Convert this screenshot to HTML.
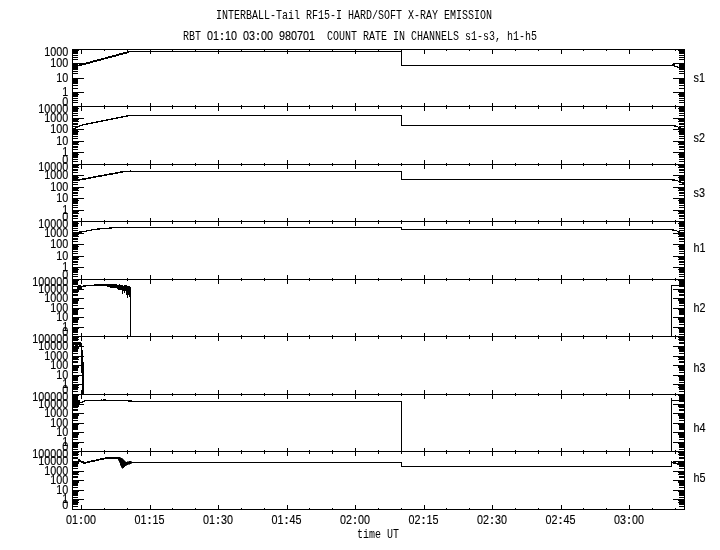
<!DOCTYPE html>
<html><head><meta charset="utf-8"><title>INTERBALL-Tail RF15-I</title><style>
html,body{margin:0;padding:0;background:#fff}
#t{position:absolute;left:0;top:0;width:720px;height:550px;will-change:transform}
#c{position:relative;width:720px;height:550px;overflow:hidden;background:#fff;color:#000}
.m{position:absolute;font-family:"Liberation Mono",monospace;font-size:10px;line-height:20px;height:20px;margin-top:-12px;white-space:pre;transform:scaleY(1.3);transform-origin:0 12px}
.s{position:absolute;font-family:"Liberation Sans",sans-serif;font-size:10.8px;line-height:20px;height:20px;margin-top:-14px;white-space:pre;transform:scaleY(1.14);transform-origin:0 14px;letter-spacing:0}
.s.r{width:60px;text-align:right}
.s.c{width:60px;text-align:center}
.s i{font-style:normal;font-weight:bold;display:inline-block;width:6px;text-align:center}
.s{-webkit-text-stroke:0.12px #000}
</style></head><body><div id="c">
<svg width="720" height="550" viewBox="0 0 720 550" shape-rendering="crispEdges" style="position:absolute;left:0;top:0">
<path fill="#000" d="M72 49h1v461h-1zM684 49h1v461h-1zM72 49h613v1h-613zM72 106h613v1h-613zM72 164h613v1h-613zM72 221h613v1h-613zM72 279h613v1h-613zM72 336h613v1h-613zM72 394h613v1h-613zM72 451h613v1h-613zM72 509h613v1h-613zM81 49h1v5h-1zM81 103h1v8h-1zM81 160h1v9h-1zM81 218h1v8h-1zM81 275h1v9h-1zM81 333h1v8h-1zM81 390h1v9h-1zM81 448h1v8h-1zM81 505h1v5h-1zM104 49h1v2h-1zM104 105h1v4h-1zM104 163h1v3h-1zM104 220h1v4h-1zM104 278h1v3h-1zM104 335h1v4h-1zM104 393h1v3h-1zM104 450h1v4h-1zM104 508h1v2h-1zM127 49h1v2h-1zM127 105h1v4h-1zM127 163h1v3h-1zM127 220h1v4h-1zM127 278h1v3h-1zM127 335h1v4h-1zM127 393h1v3h-1zM127 450h1v4h-1zM127 508h1v2h-1zM150 49h1v5h-1zM150 103h1v8h-1zM150 160h1v9h-1zM150 218h1v8h-1zM150 275h1v9h-1zM150 333h1v8h-1zM150 390h1v9h-1zM150 448h1v8h-1zM150 505h1v5h-1zM172 49h1v2h-1zM172 105h1v4h-1zM172 163h1v3h-1zM172 220h1v4h-1zM172 278h1v3h-1zM172 335h1v4h-1zM172 393h1v3h-1zM172 450h1v4h-1zM172 508h1v2h-1zM195 49h1v2h-1zM195 105h1v4h-1zM195 163h1v3h-1zM195 220h1v4h-1zM195 278h1v3h-1zM195 335h1v4h-1zM195 393h1v3h-1zM195 450h1v4h-1zM195 508h1v2h-1zM218 49h1v5h-1zM218 103h1v8h-1zM218 160h1v9h-1zM218 218h1v8h-1zM218 275h1v9h-1zM218 333h1v8h-1zM218 390h1v9h-1zM218 448h1v8h-1zM218 505h1v5h-1zM241 49h1v2h-1zM241 105h1v4h-1zM241 163h1v3h-1zM241 220h1v4h-1zM241 278h1v3h-1zM241 335h1v4h-1zM241 393h1v3h-1zM241 450h1v4h-1zM241 508h1v2h-1zM264 49h1v2h-1zM264 105h1v4h-1zM264 163h1v3h-1zM264 220h1v4h-1zM264 278h1v3h-1zM264 335h1v4h-1zM264 393h1v3h-1zM264 450h1v4h-1zM264 508h1v2h-1zM287 49h1v5h-1zM287 103h1v8h-1zM287 160h1v9h-1zM287 218h1v8h-1zM287 275h1v9h-1zM287 333h1v8h-1zM287 390h1v9h-1zM287 448h1v8h-1zM287 505h1v5h-1zM309 49h1v2h-1zM309 105h1v4h-1zM309 163h1v3h-1zM309 220h1v4h-1zM309 278h1v3h-1zM309 335h1v4h-1zM309 393h1v3h-1zM309 450h1v4h-1zM309 508h1v2h-1zM332 49h1v2h-1zM332 105h1v4h-1zM332 163h1v3h-1zM332 220h1v4h-1zM332 278h1v3h-1zM332 335h1v4h-1zM332 393h1v3h-1zM332 450h1v4h-1zM332 508h1v2h-1zM355 49h1v5h-1zM355 103h1v8h-1zM355 160h1v9h-1zM355 218h1v8h-1zM355 275h1v9h-1zM355 333h1v8h-1zM355 390h1v9h-1zM355 448h1v8h-1zM355 505h1v5h-1zM378 49h1v2h-1zM378 105h1v4h-1zM378 163h1v3h-1zM378 220h1v4h-1zM378 278h1v3h-1zM378 335h1v4h-1zM378 393h1v3h-1zM378 450h1v4h-1zM378 508h1v2h-1zM401 49h1v2h-1zM401 105h1v4h-1zM401 163h1v3h-1zM401 220h1v4h-1zM401 278h1v3h-1zM401 335h1v4h-1zM401 393h1v3h-1zM401 450h1v4h-1zM401 508h1v2h-1zM424 49h1v5h-1zM424 103h1v8h-1zM424 160h1v9h-1zM424 218h1v8h-1zM424 275h1v9h-1zM424 333h1v8h-1zM424 390h1v9h-1zM424 448h1v8h-1zM424 505h1v5h-1zM446 49h1v2h-1zM446 105h1v4h-1zM446 163h1v3h-1zM446 220h1v4h-1zM446 278h1v3h-1zM446 335h1v4h-1zM446 393h1v3h-1zM446 450h1v4h-1zM446 508h1v2h-1zM469 49h1v2h-1zM469 105h1v4h-1zM469 163h1v3h-1zM469 220h1v4h-1zM469 278h1v3h-1zM469 335h1v4h-1zM469 393h1v3h-1zM469 450h1v4h-1zM469 508h1v2h-1zM492 49h1v5h-1zM492 103h1v8h-1zM492 160h1v9h-1zM492 218h1v8h-1zM492 275h1v9h-1zM492 333h1v8h-1zM492 390h1v9h-1zM492 448h1v8h-1zM492 505h1v5h-1zM515 49h1v2h-1zM515 105h1v4h-1zM515 163h1v3h-1zM515 220h1v4h-1zM515 278h1v3h-1zM515 335h1v4h-1zM515 393h1v3h-1zM515 450h1v4h-1zM515 508h1v2h-1zM538 49h1v2h-1zM538 105h1v4h-1zM538 163h1v3h-1zM538 220h1v4h-1zM538 278h1v3h-1zM538 335h1v4h-1zM538 393h1v3h-1zM538 450h1v4h-1zM538 508h1v2h-1zM561 49h1v5h-1zM561 103h1v8h-1zM561 160h1v9h-1zM561 218h1v8h-1zM561 275h1v9h-1zM561 333h1v8h-1zM561 390h1v9h-1zM561 448h1v8h-1zM561 505h1v5h-1zM583 49h1v2h-1zM583 105h1v4h-1zM583 163h1v3h-1zM583 220h1v4h-1zM583 278h1v3h-1zM583 335h1v4h-1zM583 393h1v3h-1zM583 450h1v4h-1zM583 508h1v2h-1zM606 49h1v2h-1zM606 105h1v4h-1zM606 163h1v3h-1zM606 220h1v4h-1zM606 278h1v3h-1zM606 335h1v4h-1zM606 393h1v3h-1zM606 450h1v4h-1zM606 508h1v2h-1zM629 49h1v5h-1zM629 103h1v8h-1zM629 160h1v9h-1zM629 218h1v8h-1zM629 275h1v9h-1zM629 333h1v8h-1zM629 390h1v9h-1zM629 448h1v8h-1zM629 505h1v5h-1zM652 49h1v2h-1zM652 105h1v4h-1zM652 163h1v3h-1zM652 220h1v4h-1zM652 278h1v3h-1zM652 335h1v4h-1zM652 393h1v3h-1zM652 450h1v4h-1zM652 508h1v2h-1zM675 49h1v2h-1zM675 105h1v4h-1zM675 163h1v3h-1zM675 220h1v4h-1zM675 278h1v3h-1zM675 335h1v4h-1zM675 393h1v3h-1zM675 450h1v4h-1zM675 508h1v2h-1zM72 63h12v1h-12zM673 63h12v1h-12zM72 78h12v1h-12zM673 78h12v1h-12zM72 92h12v1h-12zM673 92h12v1h-12zM72 59h6v1h-6zM679 59h6v1h-6zM72 57h6v1h-6zM679 57h6v1h-6zM72 55h6v1h-6zM679 55h6v1h-6zM72 53h6v1h-6zM679 53h6v1h-6zM72 52h6v1h-6zM679 52h6v1h-6zM72 51h6v1h-6zM679 51h6v1h-6zM72 50h7v1h-7zM678 50h7v1h-7zM72 73h6v1h-6zM679 73h6v1h-6zM72 71h6v1h-6zM679 71h6v1h-6zM72 69h6v1h-6zM679 69h6v1h-6zM72 68h6v1h-6zM679 68h6v1h-6zM72 67h6v1h-6zM679 67h6v1h-6zM72 66h6v1h-6zM679 66h6v1h-6zM72 65h6v1h-6zM679 65h6v1h-6zM72 64h6v1h-6zM679 64h6v1h-6zM72 88h6v1h-6zM679 88h6v1h-6zM72 85h6v1h-6zM679 85h6v1h-6zM72 83h6v1h-6zM679 83h6v1h-6zM72 82h6v1h-6zM679 82h6v1h-6zM72 81h6v1h-6zM679 81h6v1h-6zM72 80h6v1h-6zM679 80h6v1h-6zM72 79h6v1h-6zM679 79h6v1h-6zM72 78h6v1h-6zM679 78h6v1h-6zM72 102h6v1h-6zM679 102h6v1h-6zM72 100h6v1h-6zM679 100h6v1h-6zM72 98h6v1h-6zM679 98h6v1h-6zM72 96h6v1h-6zM679 96h6v1h-6zM72 95h6v1h-6zM679 95h6v1h-6zM72 94h7v1h-7zM678 94h7v1h-7zM72 93h6v1h-6zM679 93h6v1h-6zM72 118h12v1h-12zM673 118h12v1h-12zM72 129h12v1h-12zM673 129h12v1h-12zM72 141h12v1h-12zM673 141h12v1h-12zM72 152h12v1h-12zM673 152h12v1h-12zM72 115h6v1h-6zM679 115h6v1h-6zM72 113h6v1h-6zM679 113h6v1h-6zM72 111h6v1h-6zM679 111h6v1h-6zM72 110h6v1h-6zM679 110h6v1h-6zM72 109h6v1h-6zM679 109h6v1h-6zM72 108h7v1h-7zM678 108h7v1h-7zM72 107h6v1h-6zM679 107h6v1h-6zM72 126h6v1h-6zM679 126h6v1h-6zM72 124h6v1h-6zM679 124h6v1h-6zM72 123h6v1h-6zM679 123h6v1h-6zM72 121h7v1h-7zM678 121h7v1h-7zM72 120h6v1h-6zM679 120h6v1h-6zM72 119h7v1h-7zM678 119h7v1h-7zM72 138h6v1h-6zM679 138h6v1h-6zM72 136h6v1h-6zM679 136h6v1h-6zM72 134h6v1h-6zM679 134h6v1h-6zM72 133h6v1h-6zM679 133h6v1h-6zM72 132h6v1h-6zM679 132h6v1h-6zM72 131h7v1h-7zM678 131h7v1h-7zM72 130h6v1h-6zM679 130h6v1h-6zM72 149h6v1h-6zM679 149h6v1h-6zM72 147h6v1h-6zM679 147h6v1h-6zM72 146h6v1h-6zM679 146h6v1h-6zM72 144h7v1h-7zM678 144h7v1h-7zM72 143h6v1h-6zM679 143h6v1h-6zM72 142h7v1h-7zM678 142h7v1h-7zM72 161h6v1h-6zM679 161h6v1h-6zM72 159h6v1h-6zM679 159h6v1h-6zM72 157h6v1h-6zM679 157h6v1h-6zM72 156h6v1h-6zM679 156h6v1h-6zM72 155h6v1h-6zM679 155h6v1h-6zM72 154h7v1h-7zM678 154h7v1h-7zM72 153h6v1h-6zM679 153h6v1h-6zM72 175h12v1h-12zM673 175h12v1h-12zM72 187h12v1h-12zM673 187h12v1h-12zM72 198h12v1h-12zM673 198h12v1h-12zM72 210h12v1h-12zM673 210h12v1h-12zM72 172h6v1h-6zM679 172h6v1h-6zM72 170h6v1h-6zM679 170h6v1h-6zM72 169h6v1h-6zM679 169h6v1h-6zM72 167h7v1h-7zM678 167h7v1h-7zM72 166h6v1h-6zM679 166h6v1h-6zM72 165h7v1h-7zM678 165h7v1h-7zM72 184h6v1h-6zM679 184h6v1h-6zM72 182h6v1h-6zM679 182h6v1h-6zM72 180h6v1h-6zM679 180h6v1h-6zM72 179h6v1h-6zM679 179h6v1h-6zM72 178h6v1h-6zM679 178h6v1h-6zM72 177h7v1h-7zM678 177h7v1h-7zM72 176h6v1h-6zM679 176h6v1h-6zM72 195h6v1h-6zM679 195h6v1h-6zM72 193h6v1h-6zM679 193h6v1h-6zM72 192h6v1h-6zM679 192h6v1h-6zM72 190h7v1h-7zM678 190h7v1h-7zM72 189h6v1h-6zM679 189h6v1h-6zM72 188h7v1h-7zM678 188h7v1h-7zM72 207h6v1h-6zM679 207h6v1h-6zM72 205h6v1h-6zM679 205h6v1h-6zM72 203h6v1h-6zM679 203h6v1h-6zM72 202h6v1h-6zM679 202h6v1h-6zM72 201h6v1h-6zM679 201h6v1h-6zM72 200h7v1h-7zM678 200h7v1h-7zM72 199h6v1h-6zM679 199h6v1h-6zM72 218h6v1h-6zM679 218h6v1h-6zM72 216h6v1h-6zM679 216h6v1h-6zM72 215h6v1h-6zM679 215h6v1h-6zM72 213h7v1h-7zM678 213h7v1h-7zM72 212h6v1h-6zM679 212h6v1h-6zM72 211h7v1h-7zM678 211h7v1h-7zM72 233h12v1h-12zM673 233h12v1h-12zM72 244h12v1h-12zM673 244h12v1h-12zM72 256h12v1h-12zM673 256h12v1h-12zM72 267h12v1h-12zM673 267h12v1h-12zM72 230h6v1h-6zM679 230h6v1h-6zM72 228h6v1h-6zM679 228h6v1h-6zM72 226h6v1h-6zM679 226h6v1h-6zM72 225h6v1h-6zM679 225h6v1h-6zM72 224h6v1h-6zM679 224h6v1h-6zM72 223h7v1h-7zM678 223h7v1h-7zM72 222h6v1h-6zM679 222h6v1h-6zM72 241h6v1h-6zM679 241h6v1h-6zM72 239h6v1h-6zM679 239h6v1h-6zM72 238h6v1h-6zM679 238h6v1h-6zM72 236h7v1h-7zM678 236h7v1h-7zM72 235h6v1h-6zM679 235h6v1h-6zM72 234h7v1h-7zM678 234h7v1h-7zM72 253h6v1h-6zM679 253h6v1h-6zM72 251h6v1h-6zM679 251h6v1h-6zM72 249h6v1h-6zM679 249h6v1h-6zM72 248h6v1h-6zM679 248h6v1h-6zM72 247h6v1h-6zM679 247h6v1h-6zM72 246h7v1h-7zM678 246h7v1h-7zM72 245h6v1h-6zM679 245h6v1h-6zM72 264h6v1h-6zM679 264h6v1h-6zM72 262h6v1h-6zM679 262h6v1h-6zM72 261h6v1h-6zM679 261h6v1h-6zM72 259h7v1h-7zM678 259h7v1h-7zM72 258h6v1h-6zM679 258h6v1h-6zM72 257h7v1h-7zM678 257h7v1h-7zM72 276h6v1h-6zM679 276h6v1h-6zM72 274h6v1h-6zM679 274h6v1h-6zM72 272h6v1h-6zM679 272h6v1h-6zM72 271h6v1h-6zM679 271h6v1h-6zM72 270h6v1h-6zM679 270h6v1h-6zM72 269h7v1h-7zM678 269h7v1h-7zM72 268h6v1h-6zM679 268h6v1h-6zM72 289h12v1h-12zM673 289h12v1h-12zM72 298h12v1h-12zM673 298h12v1h-12zM72 308h12v1h-12zM673 308h12v1h-12zM72 317h12v1h-12zM673 317h12v1h-12zM72 327h12v1h-12zM673 327h12v1h-12zM72 286h6v1h-6zM679 286h6v1h-6zM72 284h6v1h-6zM679 284h6v1h-6zM72 283h6v1h-6zM679 283h6v1h-6zM72 282h6v1h-6zM679 282h6v1h-6zM72 281h6v1h-6zM679 281h6v1h-6zM72 280h7v1h-7zM678 280h7v1h-7zM72 279h6v1h-6zM679 279h6v1h-6zM72 295h6v1h-6zM679 295h6v1h-6zM72 294h6v1h-6zM679 294h6v1h-6zM72 292h6v1h-6zM679 292h6v1h-6zM72 291h7v1h-7zM678 291h7v1h-7zM72 290h7v1h-7zM678 290h7v1h-7zM72 289h6v1h-6zM679 289h6v1h-6zM72 305h6v1h-6zM679 305h6v1h-6zM72 303h6v1h-6zM679 303h6v1h-6zM72 302h6v1h-6zM679 302h6v1h-6zM72 301h6v1h-6zM679 301h6v1h-6zM72 300h7v1h-7zM678 300h7v1h-7zM72 299h7v1h-7zM678 299h7v1h-7zM72 314h6v1h-6zM679 314h6v1h-6zM72 313h6v1h-6zM679 313h6v1h-6zM72 312h6v1h-6zM679 312h6v1h-6zM72 311h6v1h-6zM679 311h6v1h-6zM72 310h6v1h-6zM679 310h6v1h-6zM72 309h7v1h-7zM678 309h7v1h-7zM72 308h6v1h-6zM679 308h6v1h-6zM72 324h6v1h-6zM679 324h6v1h-6zM72 322h6v1h-6zM679 322h6v1h-6zM72 321h6v1h-6zM679 321h6v1h-6zM72 320h6v1h-6zM679 320h6v1h-6zM72 319h7v1h-7zM678 319h7v1h-7zM72 318h7v1h-7zM678 318h7v1h-7zM72 334h6v1h-6zM679 334h6v1h-6zM72 332h6v1h-6zM679 332h6v1h-6zM72 331h6v1h-6zM679 331h6v1h-6zM72 330h6v1h-6zM679 330h6v1h-6zM72 329h6v1h-6zM679 329h6v1h-6zM72 328h7v1h-7zM678 328h7v1h-7zM72 327h6v1h-6zM679 327h6v1h-6zM72 346h12v1h-12zM673 346h12v1h-12zM72 356h12v1h-12zM673 356h12v1h-12zM72 365h12v1h-12zM673 365h12v1h-12zM72 375h12v1h-12zM673 375h12v1h-12zM72 384h12v1h-12zM673 384h12v1h-12zM72 343h6v1h-6zM679 343h6v1h-6zM72 342h6v1h-6zM679 342h6v1h-6zM72 340h6v1h-6zM679 340h6v1h-6zM72 339h7v1h-7zM678 339h7v1h-7zM72 338h6v1h-6zM679 338h6v1h-6zM72 337h7v1h-7zM678 337h7v1h-7zM72 353h6v1h-6zM679 353h6v1h-6zM72 351h6v1h-6zM679 351h6v1h-6zM72 350h6v1h-6zM679 350h6v1h-6zM72 349h6v1h-6zM679 349h6v1h-6zM72 348h7v1h-7zM678 348h7v1h-7zM72 347h7v1h-7zM678 347h7v1h-7zM72 362h6v1h-6zM679 362h6v1h-6zM72 361h6v1h-6zM679 361h6v1h-6zM72 359h7v1h-7zM678 359h7v1h-7zM72 358h6v1h-6zM679 358h6v1h-6zM72 357h7v1h-7zM678 357h7v1h-7zM72 356h6v1h-6zM679 356h6v1h-6zM72 372h6v1h-6zM679 372h6v1h-6zM72 370h6v1h-6zM679 370h6v1h-6zM72 369h6v1h-6zM679 369h6v1h-6zM72 368h6v1h-6zM679 368h6v1h-6zM72 367h7v1h-7zM678 367h7v1h-7zM72 366h7v1h-7zM678 366h7v1h-7zM72 382h6v1h-6zM679 382h6v1h-6zM72 380h6v1h-6zM679 380h6v1h-6zM72 379h6v1h-6zM679 379h6v1h-6zM72 378h6v1h-6zM679 378h6v1h-6zM72 377h6v1h-6zM679 377h6v1h-6zM72 376h7v1h-7zM678 376h7v1h-7zM72 375h6v1h-6zM679 375h6v1h-6zM72 391h6v1h-6zM679 391h6v1h-6zM72 389h6v1h-6zM679 389h6v1h-6zM72 388h6v1h-6zM679 388h6v1h-6zM72 387h7v1h-7zM678 387h7v1h-7zM72 386h6v1h-6zM679 386h6v1h-6zM72 385h7v1h-7zM678 385h7v1h-7zM72 404h12v1h-12zM673 404h12v1h-12zM72 413h12v1h-12zM673 413h12v1h-12zM72 423h12v1h-12zM673 423h12v1h-12zM72 432h12v1h-12zM673 432h12v1h-12zM72 442h12v1h-12zM673 442h12v1h-12zM72 401h6v1h-6zM679 401h6v1h-6zM72 399h6v1h-6zM679 399h6v1h-6zM72 398h6v1h-6zM679 398h6v1h-6zM72 397h6v1h-6zM679 397h6v1h-6zM72 396h6v1h-6zM679 396h6v1h-6zM72 395h7v1h-7zM678 395h7v1h-7zM72 394h6v1h-6zM679 394h6v1h-6zM72 410h6v1h-6zM679 410h6v1h-6zM72 409h6v1h-6zM679 409h6v1h-6zM72 407h6v1h-6zM679 407h6v1h-6zM72 406h7v1h-7zM678 406h7v1h-7zM72 405h7v1h-7zM678 405h7v1h-7zM72 404h6v1h-6zM679 404h6v1h-6zM72 420h6v1h-6zM679 420h6v1h-6zM72 418h6v1h-6zM679 418h6v1h-6zM72 417h6v1h-6zM679 417h6v1h-6zM72 416h6v1h-6zM679 416h6v1h-6zM72 415h7v1h-7zM678 415h7v1h-7zM72 414h7v1h-7zM678 414h7v1h-7zM72 429h6v1h-6zM679 429h6v1h-6zM72 428h6v1h-6zM679 428h6v1h-6zM72 427h6v1h-6zM679 427h6v1h-6zM72 426h6v1h-6zM679 426h6v1h-6zM72 425h6v1h-6zM679 425h6v1h-6zM72 424h7v1h-7zM678 424h7v1h-7zM72 423h6v1h-6zM679 423h6v1h-6zM72 439h6v1h-6zM679 439h6v1h-6zM72 437h6v1h-6zM679 437h6v1h-6zM72 436h6v1h-6zM679 436h6v1h-6zM72 435h6v1h-6zM679 435h6v1h-6zM72 434h7v1h-7zM678 434h7v1h-7zM72 433h7v1h-7zM678 433h7v1h-7zM72 449h6v1h-6zM679 449h6v1h-6zM72 447h6v1h-6zM679 447h6v1h-6zM72 446h6v1h-6zM679 446h6v1h-6zM72 445h6v1h-6zM679 445h6v1h-6zM72 444h6v1h-6zM679 444h6v1h-6zM72 443h7v1h-7zM678 443h7v1h-7zM72 442h6v1h-6zM679 442h6v1h-6zM72 461h12v1h-12zM673 461h12v1h-12zM72 471h12v1h-12zM673 471h12v1h-12zM72 480h12v1h-12zM673 480h12v1h-12zM72 490h12v1h-12zM673 490h12v1h-12zM72 499h12v1h-12zM673 499h12v1h-12zM72 458h6v1h-6zM679 458h6v1h-6zM72 457h6v1h-6zM679 457h6v1h-6zM72 455h6v1h-6zM679 455h6v1h-6zM72 454h7v1h-7zM678 454h7v1h-7zM72 453h6v1h-6zM679 453h6v1h-6zM72 452h7v1h-7zM678 452h7v1h-7zM72 468h6v1h-6zM679 468h6v1h-6zM72 466h6v1h-6zM679 466h6v1h-6zM72 465h6v1h-6zM679 465h6v1h-6zM72 464h6v1h-6zM679 464h6v1h-6zM72 463h7v1h-7zM678 463h7v1h-7zM72 462h7v1h-7zM678 462h7v1h-7zM72 477h6v1h-6zM679 477h6v1h-6zM72 476h6v1h-6zM679 476h6v1h-6zM72 474h7v1h-7zM678 474h7v1h-7zM72 473h6v1h-6zM679 473h6v1h-6zM72 472h7v1h-7zM678 472h7v1h-7zM72 471h6v1h-6zM679 471h6v1h-6zM72 487h6v1h-6zM679 487h6v1h-6zM72 485h6v1h-6zM679 485h6v1h-6zM72 484h6v1h-6zM679 484h6v1h-6zM72 483h6v1h-6zM679 483h6v1h-6zM72 482h7v1h-7zM678 482h7v1h-7zM72 481h7v1h-7zM678 481h7v1h-7zM72 497h6v1h-6zM679 497h6v1h-6zM72 495h6v1h-6zM679 495h6v1h-6zM72 494h6v1h-6zM679 494h6v1h-6zM72 493h6v1h-6zM679 493h6v1h-6zM72 492h6v1h-6zM679 492h6v1h-6zM72 491h7v1h-7zM678 491h7v1h-7zM72 490h6v1h-6zM679 490h6v1h-6zM72 506h6v1h-6zM679 506h6v1h-6zM72 504h6v1h-6zM679 504h6v1h-6zM72 503h6v1h-6zM679 503h6v1h-6zM72 502h7v1h-7zM678 502h7v1h-7zM72 501h6v1h-6zM679 501h6v1h-6zM72 500h7v1h-7zM678 500h7v1h-7zM128 51h274v1h-274zM401 49h1v17h-1zM401 65h274v1h-274zM672 64h3v1h-3zM674 66h4v1h-4zM677 67h3v1h-3zM129 115h273v1h-273zM401 115h1v11h-1zM401 125h275v1h-275zM674 126h4v1h-4zM678 127h3v1h-3zM678 128h6v1h-6zM124 171h278v1h-278zM401 171h1v9h-1zM401 179h274v1h-274zM672 180h6v1h-6zM678 181h3v1h-3zM679 182h1v1h-1zM682 183h2v1h-2zM130 170h1v1h-1zM113 227h289v1h-289zM401 227h1v3h-1zM401 229h273v1h-273zM672 230h5v1h-5zM677 231h3v1h-3zM678 232h6v1h-6zM77 287h1v2h-1zM78 285h3v4h-3zM81 286h1v3h-1zM82 286h1v1h-1zM83 285h3v2h-3zM86 285h8v1h-8zM94 284h13v2h-13zM107 284h3v3h-3zM110 284h7v4h-7zM117 285h1v4h-1zM118 285h1v5h-1zM119 284h1v6h-1zM120 285h2v5h-2zM122 285h1v9h-1zM123 286h1v5h-1zM124 285h1v8h-1zM125 285h1v6h-1zM126 285h1v10h-1zM127 286h1v12h-1zM128 286h1v9h-1zM129 286h1v11h-1zM130 287h1v50h-1zM671 285h1v52h-1zM671 285h14v1h-14zM73 342h7v3h-7zM73 345h1v1h-1zM75 345h3v1h-3zM79 345h1v1h-1zM80 342h1v5h-1zM81 343h1v30h-1zM82 350h1v45h-1zM83 362h1v33h-1zM84 400h48v1h-48zM101 399h1v1h-1zM103 399h3v1h-3zM128 401h4v1h-4zM73 400h7v4h-7zM132 401h270v1h-270zM401 401h1v51h-1zM671 398h1v54h-1zM671 400h14v1h-14zM131 462h271v1h-271zM401 462h1v5h-1zM401 466h271v1h-271zM671 461h1v6h-1zM672 462h1v1h-1zM673 462h3v2h-3zM676 463h3v1h-3zM677 464h3v1h-3z"/>
<polyline fill="none" stroke="#000" stroke-width="1.9" points="77.5,65.8 129,51.9"/>
<polyline fill="none" stroke="#000" stroke-width="1.4" points="73.5,128.8 82.2,125 129.3,115.5"/>
<polyline fill="none" stroke="#000" stroke-width="1.6" points="77.5,180.2 125,171.4"/>
<polyline fill="none" stroke="#000" stroke-width="1.3" points="73,233 76,232.6 83.5,231.6 88.7,230.6 93.5,229.6 101,228.7 111,228 113.5,227.5"/>
<polyline fill="none" stroke="#000" stroke-width="1.3" points="79.5,403.2 82,402 85,401"/>
<polyline fill="none" stroke="#000" stroke-width="1.7" points="78,459.5 81,461.5 84,463 96,460.3 108,457.7 118,457.7"/>
<polygon fill="#000" stroke="#000" stroke-width="0.6" points="117.0,457.2 120.0,457.3 123.0,459.0 126.0,462.4 130.5,461.0 132.0,462.0 132.0,463.0 126.0,465.5 122.8,468.7 121.5,467.0 118.0,458.8"/>
</svg>
<div id="t">
<div class="m" style="left:216px;top:19px">INTERBALL-Tail RF15-I HARD/SOFT X-RAY EMISSION</div>
<div class="m" style="left:183px;top:39.5px">RBT</div>
<div class="s" style="left:207px;top:39.5px">01<i>:</i>10<i> </i>03<i>:</i>00<i> </i>980701</div>
<div class="m" style="left:327px;top:39.5px">COUNT RATE IN CHANNELS s1-s3, h1-h5</div>
<div class="m" style="left:357px;top:538.2px">time UT</div>
<div class="s r" style="left:8.2px;top:56px">1000</div>
<div class="s r" style="left:8.2px;top:67px">100</div>
<div class="s r" style="left:8.2px;top:82px">10</div>
<div class="s r" style="left:8.2px;top:96px">1</div>
<div class="s r" style="left:8.2px;top:106px">0</div>
<div class="s r" style="left:8.2px;top:113px">10000</div>
<div class="s r" style="left:8.2px;top:122px">1000</div>
<div class="s r" style="left:8.2px;top:133px">100</div>
<div class="s r" style="left:8.2px;top:145px">10</div>
<div class="s r" style="left:8.2px;top:156px">1</div>
<div class="s r" style="left:8.2px;top:164px">0</div>
<div class="s r" style="left:8.2px;top:171px">10000</div>
<div class="s r" style="left:8.2px;top:179px">1000</div>
<div class="s r" style="left:8.2px;top:191px">100</div>
<div class="s r" style="left:8.2px;top:202px">10</div>
<div class="s r" style="left:8.2px;top:214px">1</div>
<div class="s r" style="left:8.2px;top:221px">0</div>
<div class="s r" style="left:8.2px;top:228px">10000</div>
<div class="s r" style="left:8.2px;top:237px">1000</div>
<div class="s r" style="left:8.2px;top:248px">100</div>
<div class="s r" style="left:8.2px;top:260px">10</div>
<div class="s r" style="left:8.2px;top:271px">1</div>
<div class="s r" style="left:8.2px;top:279px">0</div>
<div class="s r" style="left:8.2px;top:286px">100000</div>
<div class="s r" style="left:8.2px;top:293px">10000</div>
<div class="s r" style="left:8.2px;top:302px">1000</div>
<div class="s r" style="left:8.2px;top:312px">100</div>
<div class="s r" style="left:8.2px;top:321px">10</div>
<div class="s r" style="left:8.2px;top:331px">1</div>
<div class="s r" style="left:8.2px;top:336px">0</div>
<div class="s r" style="left:8.2px;top:343px">100000</div>
<div class="s r" style="left:8.2px;top:350px">10000</div>
<div class="s r" style="left:8.2px;top:360px">1000</div>
<div class="s r" style="left:8.2px;top:369px">100</div>
<div class="s r" style="left:8.2px;top:379px">10</div>
<div class="s r" style="left:8.2px;top:388px">1</div>
<div class="s r" style="left:8.2px;top:394px">0</div>
<div class="s r" style="left:8.2px;top:401px">100000</div>
<div class="s r" style="left:8.2px;top:408px">10000</div>
<div class="s r" style="left:8.2px;top:417px">1000</div>
<div class="s r" style="left:8.2px;top:427px">100</div>
<div class="s r" style="left:8.2px;top:436px">10</div>
<div class="s r" style="left:8.2px;top:446px">1</div>
<div class="s r" style="left:8.2px;top:451px">0</div>
<div class="s r" style="left:8.2px;top:458px">100000</div>
<div class="s r" style="left:8.2px;top:465px">10000</div>
<div class="s r" style="left:8.2px;top:475px">1000</div>
<div class="s r" style="left:8.2px;top:484px">100</div>
<div class="s r" style="left:8.2px;top:494px">10</div>
<div class="s r" style="left:8.2px;top:503px">1</div>
<div class="s r" style="left:8.2px;top:509px">0</div>
<div class="s c" style="left:51px;top:524px">01<i>:</i>00</div>
<div class="s c" style="left:119.5px;top:524px">01<i>:</i>15</div>
<div class="s c" style="left:188px;top:524px">01<i>:</i>30</div>
<div class="s c" style="left:256.5px;top:524px">01<i>:</i>45</div>
<div class="s c" style="left:325px;top:524px">02<i>:</i>00</div>
<div class="s c" style="left:393.5px;top:524px">02<i>:</i>15</div>
<div class="s c" style="left:462px;top:524px">02<i>:</i>30</div>
<div class="s c" style="left:530.5px;top:524px">02<i>:</i>45</div>
<div class="s c" style="left:599px;top:524px">03<i>:</i>00</div>
<div class="s" style="left:693.6px;top:82px">s1</div>
<div class="s" style="left:693.6px;top:142px">s2</div>
<div class="s" style="left:693.6px;top:197px">s3</div>
<div class="s" style="left:693.6px;top:252px">h1</div>
<div class="s" style="left:693.6px;top:312px">h2</div>
<div class="s" style="left:693.6px;top:372px">h3</div>
<div class="s" style="left:693.6px;top:432px">h4</div>
<div class="s" style="left:693.6px;top:482px">h5</div>
</div>
</div></body></html>
